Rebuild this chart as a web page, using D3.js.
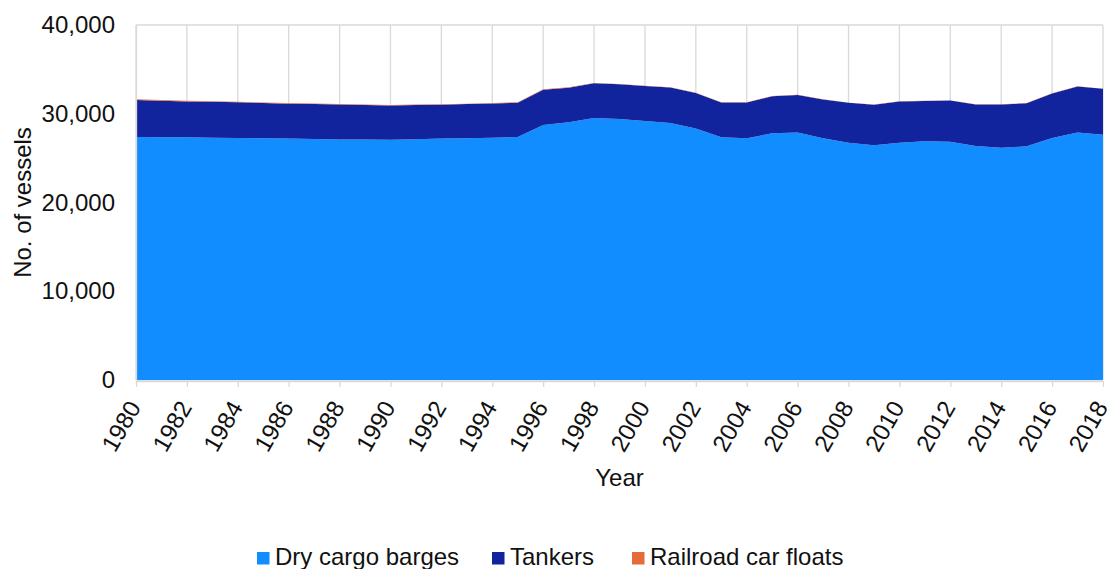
<!DOCTYPE html>
<html>
<head>
<meta charset="utf-8">
<script src="https://cdn.jsdelivr.net/npm/d3@7"></script>
<style>
  html, body { margin: 0; padding: 0; background: #fff; }
  svg { display: block; font-family: "Liberation Sans", Arial, sans-serif; }
</style>
</head>
<body>
<svg id="chart" width="1110" height="569"></svg>
<script>
const years = [1980,1981,1982,1983,1984,1985,1986,1987,1988,1989,
               1990,1991,1992,1993,1994,1995,1996,1997,1998,1999,
               2000,2001,2002,2003,2004,2005,2006,2007,2008,2009,
               2010,2011,2012,2013,2014,2015,2016,2017,2018];
const dryCargo = [27380,27360,27340,27300,27270,27240,27200,27150,27110,27090,
                  27080,27140,27200,27250,27300,27380,28730,29030,29520,29400,
                  29180,28960,28350,27340,27230,27800,27900,27230,26740,26450,
                  26740,26900,26850,26370,26180,26330,27270,27900,27640];
const tankers = [4160,4105,4050,4040,4015,3970,3935,3940,3930,3905,
                 3845,3840,3810,3835,3855,3870,3980,3910,3905,3915,
                 3945,4010,4000,3920,4035,4175,4225,4375,4490,4560,
                 4640,4550,4630,4675,4865,4855,5015,5175,5165];
const railroad = [90,85,80,80,75,70,65,60,60,55,
                  55,50,50,45,45,40,40,40,35,35,
                  35,30,30,30,25,25,25,25,20,20,
                  20,20,20,15,15,15,15,15,15];
const seriesNames = ["Dry cargo barges", "Tankers", "Railroad car floats"];
const seriesColors = ["#118DFF", "#12239E", "#E66C37"];
const yTicks = [0, 10000, 20000, 30000, 40000];
const xTickYears = years.filter(y => y % 2 === 0);

const rows = years.map((y, i) => ({
  year: y,
  "Dry cargo barges": dryCargo[i],
  "Tankers": tankers[i],
  "Railroad car floats": railroad[i]
}));

const svg = d3.select("#chart");
const L = 136, R = 1103, T = 25, B = 380;
const FS = 24;

const x = d3.scaleLinear().domain([1980, 2018]).range([L, R]);
const y = d3.scaleLinear().domain([0, 40000]).range([B, T]);

const grid = "#d9d9d9";
const textColor = "#111";

// gridlines (behind areas)
svg.append("g").selectAll("line").data(yTicks).join("line")
  .attr("x1", L).attr("x2", R)
  .attr("y1", d => y(d)).attr("y2", d => y(d))
  .attr("stroke", grid).attr("stroke-width", 1.3);
svg.append("g").selectAll("line").data(xTickYears).join("line")
  .attr("x1", d => x(d)).attr("x2", d => x(d))
  .attr("y1", T).attr("y2", B)
  .attr("stroke", grid).attr("stroke-width", 1.3);

// stacked areas
const stacked = d3.stack().keys(seriesNames)(rows);
const area = d3.area()
  .x(d => x(d.data.year))
  .y0(d => y(d[0]))
  .y1(d => y(d[1]));
svg.append("g").selectAll("path").data(stacked).join("path")
  .attr("d", area)
  .attr("fill", (d, i) => seriesColors[i]);

// y axis
const yAxis = d3.axisLeft(y).tickValues(yTicks).tickFormat(d3.format(",")).tickSize(0).tickPadding(21);
const gy = svg.append("g").attr("transform", `translate(${L},0)`).call(yAxis);
gy.select(".domain").attr("stroke", grid).attr("stroke-width", 1.3);
gy.selectAll("text").attr("font-size", FS).attr("fill", textColor)
  .attr("font-family", "Liberation Sans, Arial, sans-serif");

// x axis
const xAxis = d3.axisBottom(x).tickValues(xTickYears).tickFormat(d3.format("d")).tickSize(6).tickSizeOuter(0);
const gx = svg.append("g").attr("transform", `translate(0,${B + 1})`).call(xAxis);
gx.select(".domain").attr("stroke", grid).attr("stroke-width", 1.3);
gx.selectAll(".tick line").attr("stroke", grid).attr("stroke-width", 1.3);
gx.selectAll("text")
  .attr("font-size", FS).attr("fill", textColor)
  .attr("font-family", "Liberation Sans, Arial, sans-serif")
  .attr("text-anchor", "end")
  .attr("x", 0).attr("y", 0).attr("dy", "0.35em")
  .attr("transform", "translate(-2,22) rotate(-60)");

// axis titles
svg.append("text")
  .attr("x", (L + R) / 2).attr("y", 486)
  .attr("text-anchor", "middle")
  .attr("font-size", FS).attr("fill", textColor)
  .text("Year");
svg.append("text")
  .attr("transform", `translate(31,${(T + B) / 2}) rotate(-90)`)
  .attr("text-anchor", "middle")
  .attr("font-size", FS).attr("fill", textColor)
  .text("No. of vessels");

// legend
const legendX = [257, 492, 632];
const lg = svg.append("g");
seriesNames.forEach((name, i) => {
  lg.append("rect")
    .attr("x", legendX[i]).attr("y", 552)
    .attr("width", 12.5).attr("height", 12.5)
    .attr("fill", seriesColors[i]);
  lg.append("text")
    .attr("x", legendX[i] + 18).attr("y", 565)
    .attr("font-size", FS).attr("fill", textColor)
    .text(name);
});
</script>
</body>
</html>
